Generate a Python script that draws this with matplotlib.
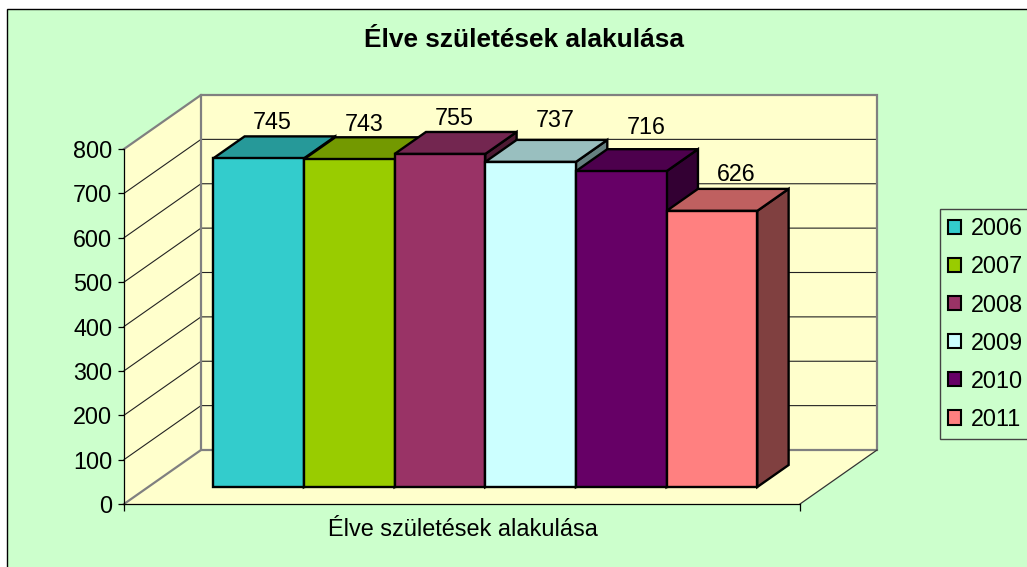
"""Excel-style 3D column chart of live births, drawn with oblique projection on a 2D axes."""
import matplotlib
matplotlib.use("Agg")
import matplotlib.pyplot as plt
from matplotlib.patches import Polygon, Rectangle, Patch

plt.rcParams["font.family"] = ["Liberation Sans", "DejaVu Sans"]

YEARS = ["2006", "2007", "2008", "2009", "2010", "2011"]
BIRTHS = [745, 743, 755, 737, 716, 626]
COLORS = ["#33CCCC", "#99CC00", "#993366", "#CCFFFF", "#660066", "#FF8080"]
TOP_COLORS = ["#269999", "#739900", "#732650", "#99BFBF", "#4D004D", "#BF6060"]
SIDE_COLORS = ["#1A6666", "#4D6600", "#4D1A33", "#668080", "#330033", "#804040"]
Y_TICKS = [0, 100, 200, 300, 400, 500, 600, 700, 800]
TITLE = "Élve születések alakulása"

W, H = 1027, 567
BG = "#CCFFCC"
WALL = "#FFFFCC"
GRAY = "#808080"
FS = 16.8

# plot front plane in pixels
LEFT, RIGHT, BOTTOM, TOP = 124, 800, 504, 149
SLOT = 90.67
PX_V = (BOTTOM - TOP) / 800
XMIN = -(213 - 24 - LEFT) / SLOT
XMAX = XMIN + (RIGHT - LEFT) / SLOT
WALL_DX = 77 / SLOT
WALL_DV = 54 / PX_V
BAR_NEAR = 17 / 54
BAR_FAR = 39 / 54
BAR_SCALE = 0.994

LABEL_DX = [14, 15, 14, 25, 25, 24]
LABEL_DY = [36, 35, 35, 41, 44, 36]


def pt(x, v, depth=0.0):
    return (x + depth * WALL_DX, v + depth * WALL_DV)


def poly(ax, pts, fc, ec="black", lw=1.7, z=3):
    ax.add_patch(Polygon(pts, closed=True, fc=fc, ec=ec, lw=lw, zorder=z,
                         clip_on=False, joinstyle="miter"))


fig = plt.figure(figsize=(W / 100, H / 100), dpi=100, facecolor="white")
fig.add_artist(Rectangle((7 / W, -0.1), 1.1, 1.1 - 9 / H, transform=fig.transFigure,
                         fc=BG, ec="black", lw=1.0, zorder=-1))

ax = fig.add_axes([LEFT / W, 1 - BOTTOM / H, (RIGHT - LEFT) / W, (BOTTOM - TOP) / H])
ax.set_xlim(XMIN, XMAX)
ax.set_ylim(0, 800)
ax.patch.set_visible(False)
for s in ["top", "right"]:
    ax.spines[s].set_visible(False)
for s in ["left", "bottom"]:
    ax.spines[s].set_linewidth(0.9)

# walls and floor
poly(ax, [pt(XMIN, 0), pt(XMIN, 0, 1), pt(XMIN, 800, 1), pt(XMIN, 800)], WALL, "none", 0, 0.5)
poly(ax, [pt(XMIN, 0, 1), pt(XMAX, 0, 1), pt(XMAX, 800, 1), pt(XMIN, 800, 1)], WALL, "none", 0, 0.5)
poly(ax, [pt(XMIN, 0), pt(XMAX, 0), pt(XMAX, 0, 1), pt(XMIN, 0, 1)], WALL, "none", 0, 0.5)

for v in Y_TICKS[1:-1]:
    xs, ys = zip(pt(XMIN, v), pt(XMIN, v, 1), pt(XMAX, v, 1))
    ax.plot(xs, ys, color="#222222", lw=0.8, zorder=0.8, clip_on=False)

# wall outline
xs, ys = zip(pt(XMIN, 800), pt(XMIN, 800, 1), pt(XMAX, 800, 1), pt(XMAX, 0, 1), pt(XMIN, 0, 1), pt(XMIN, 800, 1))
ax.plot(xs, ys, color=GRAY, lw=1.6, zorder=0.9, clip_on=False, solid_joinstyle="miter")
xs, ys = zip(pt(XMIN, 0), pt(XMIN, 0, 1))
ax.plot(xs, ys, color=GRAY, lw=1.6, zorder=0.9, clip_on=False)
xs, ys = zip(pt(XMAX, 0), pt(XMAX, 0, 1))
ax.plot(xs, ys, color="#333333", lw=0.9, zorder=0.9, clip_on=False)

# columns, left to right so each one overlaps the previous side face
for i, (val, c, ct, cs) in enumerate(zip(BIRTHS, COLORS, TOP_COLORS, SIDE_COLORS)):
    v = val * BAR_SCALE
    x0, x1 = i, i + 1
    poly(ax, [pt(x1, 0, BAR_NEAR), pt(x1, 0, BAR_FAR), pt(x1, v, BAR_FAR), pt(x1, v, BAR_NEAR)], cs, z=3 + i)
    poly(ax, [pt(x0, v, BAR_NEAR), pt(x1, v, BAR_NEAR), pt(x1, v, BAR_FAR), pt(x0, v, BAR_FAR)], ct, z=3 + i)
    poly(ax, [pt(x0, 0, BAR_NEAR), pt(x1, 0, BAR_NEAR), pt(x1, v, BAR_NEAR), pt(x0, v, BAR_NEAR)], c, z=3 + i)
    lx, ly = pt(x0 + 0.5, v, BAR_NEAR)
    ax.text(lx + LABEL_DX[i] / SLOT, ly + LABEL_DY[i] / PX_V, str(val), ha="center", va="center",
            fontsize=FS, color="black", zorder=20, clip_on=False)

ax.set_yticks(Y_TICKS)
ax.tick_params(axis="y", length=4, width=0.9, labelsize=FS, pad=4.5)
ax.set_xticks([XMIN, XMAX], ["", ""])
ax.tick_params(axis="x", length=5, width=0.9)
ax.set_xlabel(TITLE, fontsize=16.9)
ax.xaxis.set_label_coords((462.5 - LEFT) / (RIGHT - LEFT), -(530 - BOTTOM) / (BOTTOM - TOP))
ax.xaxis.label.set_verticalalignment("center")

fig.text(523.5 / W, 1 - 40 / H, TITLE, ha="center", va="center", fontsize=18.9, fontweight="bold")

handles = [Patch(fc=c, ec="black", lw=1.5) for c in COLORS]
fig.legend(handles, YEARS, loc="upper left", bbox_to_anchor=(940 / W, 1 - 209 / H), borderaxespad=0,
           fontsize=FS, frameon=True, fancybox=False, framealpha=1, facecolor=BG, edgecolor="#444444",
           labelspacing=0.645, handlelength=0.56, handleheight=0.56, handletextpad=0.42,
           borderpad=0.36)

fig.savefig("out.png", dpi=100)
plt.close(fig)
